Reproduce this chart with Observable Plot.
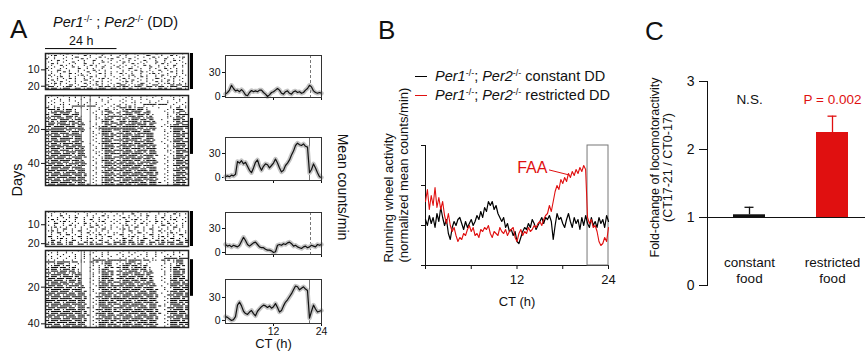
<!DOCTYPE html>
<html><head><meta charset="utf-8">
<script src="https://cdn.jsdelivr.net/npm/d3@7"></script>
<script src="https://cdn.jsdelivr.net/npm/@observablehq/plot@0.6"></script>
<style>
body{margin:0;background:#fff;}
#fig{position:relative;width:867px;height:354px;overflow:hidden;font-family:"Liberation Sans",Arial,sans-serif;color:#111;}
.t{position:absolute;white-space:nowrap;line-height:1;}
sup{font-size:62%;vertical-align:0.55em;line-height:0;font-style:normal}
</style></head><body><div id="fig"></div>
<script>
// ---------------- DATA ----------------
// Actograms: one string per day, 24 hourly bins (' ' none, '.' short bout, '-' full-hour bout); double plotted
const actoConstA = [
" .   . -   .  .  . -  . ",
"  .-  .  .   - .   .  . ",
" . .   .  -.   .  - .   ",
"-  .  .  .  - .  .   .- ",
"  . -  .   . .  -  .  . ",
" .  . .  -   .  .  - .  ",
". - .   . .  -  . .   . ",
"  .  - . .   . - .  .  .",
" . .  .  - .  .  . -  . ",
"- .  . .   -  . .  .  . ",
" .  -.  .  . .  - . .   ",
"  . . - .  .  -  .  . . ",
". .  .  - . .  .  - . . ",
" - . .  .  .- .  .  . . ",
"  . .-  . .  . - .  .  .",
" .  . . - .  . .  .- .  ",
". - .  .  .  -. .  .  . ",
" . . -  . . .  . - . .  ",
"  .- . .  .  - . . .  . ",
"-. . .  -. .  . .- . . .",
" -- . .-- . -- .  -.-- .",
"-.-- .--. -- .-- .--. --",
" .- -. .-- .  -.- . -- ."
];
const actoRestrA = [
"  .   .   .    .  .   . ",
" .  .   . .  .    .  .  ",
"   . .  .   .  .   .  . ",
"  .  .  . .    .   . .  ",
" . .  .    .  .  .   .  ",
"  .  .. .  . .   .  .  .",
" . .  .  ----.---  .  . ",
"-. .- .  .  .     .  . .",
" --.- .-- .   .   . -. .",
". .---.-- .      . .--. ",
" .-- ---. -.    .  . -- ",
"-. --.-- --.     . .-. .",
" .---. --.- .    .  .---",
"-- .--.-- .-     .. -.- ",
" .-- --- .--.    . .--. ",
"-.- .--.-- -.  .   --.- ",
" --.--- .--.-    . .-.--",
".-- .---.- --.   .  --. ",
"-- ---.--- -.   . .-- --",
" .-----.-----  . .------",
"------.-- .--.    .---.-",
"-.----- .--.-   .  ---. ",
" .--.--- --.    . .--.- ",
"--.-- .-----.    . --.--",
" .---.-- .--.   .  .--- ",
"-.-- ----.--.    . --.- ",
" .--.---. --.   .  .--.-",
"--.---- .--.-    . ---. ",
" .-- .---.--.  .  .--.--",
"-.---.-- ---.   .  .--- ",
" --.--.---.--.   . .---.",
"-.--- .--.-.-    . --.- ",
" .--.--- .---.  .  .--.-",
"--.-- .---.--    .. ---.",
" .---.--.- --.   . .-.--",
"-.--.---- .--.    . --. ",
" --.--- .---.-  .  .--.-",
"--.---.-- --.    . .---.",
" .--.---.--.-   .  --.- ",
"-.---.-- .---.   . .--.-",
" --.-- .---.--   .  ---.",
"--.---.-- .--.  .  .--.-",
" .---.--.---.    . --.- ",
"-.--.--- .---.   .  .---",
" --.---.-- --.  .  .--.-",
"--.-- .---.--.   . --.- ",
" .---.--.---.-   .  ---.",
"-.--.---- --.-  .  .--.-",
" --.---.--.--.   . --.- ",
"--.-- .---.--.  .  .---.",
" .---.--.---.-   . .--.-",
"-.--.---- .--.  .  --.- ",
" --.---.-- --.-  . .---.",
"--.-- .---.--.   . --.- "
];
const actoConstB = [
" . .  .   .  . .   .  . ",
"  .  . .   .  .  .  .   ",
". .  -  . .   . .  - . .",
" .  . . . -  .  . .  .  ",
"  - .  .  .  . -  . .  .",
" . . .- . .  .  . .-  . ",
".  -. .  . . - . .  .  .",
" . .  . - .  . . - .  . ",
"  .- . .  . .  -. . . . ",
". . . -. .  . .  . -. . ",
" .- . .  . -.  . . . .  ",
"  . -. . .  . - . .  . .",
". .  . -. . .  . .- .  .",
" -. . .  . -. .  . . -. ",
"  . .- . .  . .- . .  . ",
". -. . . -. . . . -. . .",
" .- -. .-. . -.- . .-. -",
"-.-.-- .-. -- .-.--. -.-",
" -- .-.-- .- .-- .-.--. "
];
const actoRestrB = [
" .  .  .   . .   .   .  ",
"  . .  . .   .  .  . .  ",
" .  . .   .  . .   . .  ",
". .  .  . .  .   . .  . ",
"  . .  .  .  .  . .  .  ",
" . .  .  .  .   ----.---",
"---.----.-- .. -.- .--. ",
" . .--. .  .    .  .--. ",
". .-- .-. .     . . .-. ",
" .--.-- .-.    .  . -.- ",
"-.-- .--.- .    . .--.  ",
" .--.--.-- .   .  .-.-- ",
"-- .--- .-.-    . .--.- ",
" .---.-- .--.   .  --.- ",
"-.-- .---.-.    . .---. ",
" --.--.-- .-.  .  .--.- ",
"--.--- .--.-    . .-.-- ",
" .--.--.-- -.  .  --.-.-",
"-.---.-- .--.   . .--.- ",
" --.-- .---.-    .---.--",
"--.---.-- .--. .  --.-.-",
" .---.--.---.   . .--.--",
"-.--.--- .--.-  .  ---.-",
" --.---.-- --.   .--.-- ",
"--.-- .---.--. .  .---.-",
" .---.--.---.-   --.--.-",
"-.--.---- --.-  . .--.--",
"---.---.--.--.   .---.- ",
"--.-- .---.--.  . --.---",
" .---.--.---.-   .--.-.-",
"-.--.---- .--.  . ---.- ",
" --.---.-- --.- . .---.-",
"--.-- .---.--.   --.--.-",
" .---.--.---.-  . .---.-",
"-.--.----.--.-   ---.-- ",
" --.---.-- --.-  .--.--.",
"--.-- .---.--.  . .---.-",
" .---.--.---.-   --.--.-",
"-.--.---- --.-  . .--.--",
" --.---.--.--.   .---.- ",
"--.-- .---.--.  . --.---",
" .---.--.---.-   .--.-.-",
"-.--.---- .--.  . ---.- "
];
const feedWindow = [12, 15];          // CT (h) of the grey lines in restricted actograms
const markConstA = [0, 22], markRestrA = [13.5, 34.7], markConstB = [3, 21.5], markRestrB = [5, 25];

// Panel A mean counts/min, every 0.5 h from CT0 to CT24
const meanConstTop = [3,5,8,14,10,7,8,6,8.5,6,2,1,5,7.5,6,7,6,8,8,5,3,0,2,5,6,8,10,8,4,3,6,7,4,3,6,7,5,6,4,5,8,10,14,12,7,5,4,5,4];
const meanRestrTop = [1,2,1,3,2,4,20,18,21,17,19,14,9,6,12,19,22,14,9,14,17,16,12,15,18,23,18,12,7,9,15,18,22,28,33,40,43,41,40,42,39,38,6,10,17,12,6,1,0];
const meanConstBot = [10,8,9,7,9,8,7,9,14,19,15,10,8,10,12,13,10,7,6,6,4,3,3,2,0,1,9,10,9,11,10,12,13,11,8,9,7,6,5,7,8,6,7,9,8,7,10,9,10];
const meanRestrBot = [5,4,2,0,1,5,20,24,19,12,9,8,11,13,9,6,12,15,18,20,19,17,19,16,18,22,17,11,13,19,24,27,31,35,40,45,44,40,42,44,41,39,3,12,20,15,11,12,13];
const stepA = 0.5;

// Panel B normalized activity, every 0.25 h from CT0 to CT24
const constantDD = [1.15,1.0,1.25,1.05,1.2,0.95,1.3,1.1,1.45,1.2,1.0,1.15,0.8,0.65,0.95,1.1,1.0,1.15,1.2,1.05,0.9,1.1,0.95,1.05,1.15,1.0,1.1,1.25,1.15,1.35,1.2,1.45,1.35,1.6,1.5,1.6,1.4,1.5,1.3,1.2,1.1,1.2,0.95,1.05,0.85,0.9,0.75,0.85,0.6,0.55,0.7,0.85,0.95,0.9,1.05,0.95,1.15,1.05,0.9,1.0,1.1,1.2,1.05,1.2,1.15,1.25,1.1,0.65,1.0,1.3,1.15,1.2,1.05,0.95,1.15,1.3,1.1,0.95,1.2,1.05,1.15,0.9,1.2,1.0,1.25,1.05,0.95,1.2,1.0,1.1,0.95,1.2,1.05,1.15,0.95,1.25,1.1];
const restrictedDD = [1.6,1.9,1.4,1.75,1.5,1.95,1.45,1.7,1.4,1.6,1.25,1.05,1.3,1.0,0.85,0.95,0.75,0.6,0.7,0.65,0.8,0.75,0.9,1.0,0.85,0.95,0.75,0.8,0.7,0.9,0.85,0.95,0.9,1.0,0.8,0.7,0.85,0.8,0.75,0.95,0.85,0.8,0.9,0.75,0.85,0.9,0.95,0.7,0.6,0.8,0.9,0.75,0.85,0.8,0.95,0.85,0.9,1.0,0.95,1.05,1.1,1.0,1.15,1.25,1.3,1.5,1.35,1.6,1.85,2.0,1.9,2.15,2.05,2.2,2.1,2.3,2.2,2.35,2.25,2.4,2.3,2.45,2.35,2.5,2.4,1.2,1.05,1.15,0.95,1.0,0.85,0.6,0.5,0.55,0.7,0.6,0.95];
const stepB = 0.25;
const faaWindowB = [21.25, 24];
const faaNote = [{t: 14.0, v: 2.45, text: "FAA"}];
const faaPointer = [{t1: 16.2, v1: 2.39, t2: 18.7, v2: 2.27}];

// Panel C
const conditions = ["constant", "restricted"];
const conditionLabels = ["constant\nfood", "restricted\nfood"];
const foldMean = [1.04, 2.25];
const foldErr = [0.11, 0.24];
const sigText = ["N.S.", "P = 0.002"];
const barColors = ["#111111", "#e01010"];

// ---------------- DRAWING ----------------
const RED = "#e01010";
const FONT = "'Liberation Sans', Arial, sans-serif";
const fig = document.getElementById("fig");
function put(el, left, top) { el.style.position = "absolute"; el.style.left = left + "px"; el.style.top = top + "px"; fig.appendChild(el); return el; }
function txt(html, x, base, size, extra = "") {
  const d = document.createElement("div"); d.className = "t"; d.innerHTML = html;
  d.style.cssText += `font-size:${size}px;${extra}`;
  return put(d, x, base - 0.8465 * size);
}
function rot(html, cx, cy, size, deg) {
  const d = document.createElement("div"); d.className = "t"; d.innerHTML = html;
  d.style.cssText += `font-size:${size}px;transform:translate(-50%,-50%) rotate(${deg}deg);`;
  return put(d, cx, cy);
}
const baseStyle = (fs) => ({background: "transparent", overflow: "visible", fontFamily: FONT, fontSize: fs + "px", color: "#111"});

function actoData(days, first) {
  const out = [];
  const n = days.length;
  days.forEach((s, i) => {
    const d = first + i;
    for (let h = 0; h < Math.min(24, s.length); h++) {
      const c = s[h];
      if (c === " ") continue;
      const w = c === "-" ? 1 : 0.4;
      if (i < n - 1) out.push({row: d, x: h, w});
      if (i > 0) out.push({row: d - 1, x: h + 24, w});
    }
  });
  return out;
}
function acto({days, first, domain, height, mt, yTicks, mark, feed, extra = []}) {
  const marks = [
    Plot.rect(actoData(days, first), {x1: "x", x2: d => d.x + d.w, y1: d => d.row + 0.25, y2: d => d.row + 0.8, fill: "#000"})
  ];
  if (feed) marks.push(Plot.ruleX(feedWindow, {stroke: "#777", strokeWidth: 1}));
  marks.push(Plot.frame({stroke: "#222", strokeWidth: 1.5}));
  marks.push(Plot.ruleX([49], {y1: mark[0], y2: mark[1], stroke: "#000", strokeWidth: 3}));
  marks.push(...extra);
  return Plot.plot({
    width: 185, height, marginLeft: 30, marginRight: 12, marginTop: mt, marginBottom: 3,
    style: baseStyle(10.5),
    x: {domain: [0, 48], axis: null},
    y: {domain, reverse: true, ticks: yTicks, tickSize: 4, tickPadding: 2, tickFormat: d => d, label: null},
    marks
  });
}
put(acto({days: actoConstA, first: 0, domain: [0, 22], height: 64, mt: 25, yTicks: [10, 20], mark: markConstA, feed: false,
  extra: [Plot.ruleY([-3], {x1: 0, x2: 24, stroke: "#000", strokeWidth: 1}),
          Plot.text(["24 h"], {x: 12, y: -7.6, fontSize: 12.5})]}), 15, 28);
put(acto({days: actoRestrA, first: 0, domain: [0, 53], height: 96, mt: 3, yTicks: [20, 40], mark: markRestrA, feed: true}), 15, 92);
put(acto({days: actoConstB, first: 3, domain: [3, 21.5], height: 41, mt: 3, yTicks: [10, 20], mark: markConstB, feed: false}), 15, 208);
put(acto({days: actoRestrB, first: 0, domain: [0, 42], height: 83, mt: 3, yTicks: [20, 40], mark: markRestrB, feed: true}), 15, 247);

function linePlot({values, domain, height, mb, vline, dashed, xLabels}) {
  const data = values.map((v, i) => ({t: i * stepA, v}));
  const marks = [
    Plot.ruleX([vline], {stroke: "#777", strokeWidth: 1, strokeDasharray: dashed ? "3,2" : "none"}),
    Plot.lineY(data, {x: "t", y: "v", stroke: "#c4c4c4", strokeWidth: 4.5}),
    Plot.lineY(data, {x: "t", y: "v", stroke: "#111", strokeWidth: 1.2}),
    Plot.frame({stroke: "#333", strokeWidth: 1})
  ];
  if (xLabels) marks.push(Plot.text(["CT (h)"], {frameAnchor: "bottom", dy: 24, fontSize: 13}));
  return Plot.plot({
    width: 125, height, marginLeft: 25, marginRight: 4, marginTop: 5, marginBottom: mb,
    style: baseStyle(10.5),
    x: {domain: [0, 24], ticks: [12, 24], tickSize: 3, tickPadding: 1, tickFormat: xLabels ? (d => d) : (() => ""), label: null},
    y: {domain, ticks: [0, 30], tickSize: 3, tickPadding: 2, tickFormat: d => d, label: null},
    marks
  });
}
put(linePlot({values: meanConstTop, domain: [-1.25, 51.25], height: 52, mb: 5, vline: 21.25, dashed: true}), 200, 50);
put(linePlot({values: meanRestrTop, domain: [-3.75, 50], height: 53, mb: 5, vline: 21, dashed: false}), 200, 132);
put(linePlot({values: meanConstBot, domain: [-2.5, 50], height: 52, mb: 5, vline: 21.25, dashed: true}), 200, 207);
put(linePlot({values: meanRestrBot, domain: [-4, 53.5], height: 80, mb: 31, vline: 21, dashed: false, xLabels: true}), 200, 274);

// Panel B
const bBlack = constantDD.map((v, i) => ({t: i * stepB, v}));
const bRed = restrictedDD.map((v, i) => ({t: i * stepB, v}));
put(Plot.plot({
  width: 250, height: 190, marginLeft: 55, marginTop: 15, marginRight: 12, marginBottom: 55,
  style: baseStyle(13),
  x: {domain: [0, 24], ticks: [0, 6, 12, 18, 24], tickFormat: d => (d === 12 || d === 24) ? d : "", tickSize: 4, tickPadding: 5, line: true, label: null},
  y: {domain: [0, 3], ticks: [0, 1, 2, 3], tickFormat: () => "", tickSize: 4, line: true, label: null},
  marks: [
    Plot.rect([faaWindowB], {x1: d => d[0], x2: d => d[1], y1: 0, y2: 3, stroke: "#777", fill: "none"}),
    Plot.lineY(bBlack, {x: "t", y: "v", stroke: "#000", strokeWidth: 1.2}),
    Plot.lineY(bRed, {x: "t", y: "v", stroke: RED, strokeWidth: 1.1}),
    Plot.link(faaPointer, {x1: "t1", y1: "v1", x2: "t2", y2: "v2", stroke: RED, strokeWidth: 1}),
    Plot.text(faaNote, {x: "t", y: "v", text: "text", fill: RED, fontSize: 16}),
    Plot.text(["Running wheel activity\n(normalized mean counts/min)"], {frameAnchor: "bottom-left", rotate: -90, textAnchor: "start", lineAnchor: "middle", lineHeight: 1.15, dx: -29.5, dy: -3, fontSize: 13}),
    Plot.text(["CT (h)"], {frameAnchor: "bottom", dy: 40, fontSize: 13})
  ]
}), 370, 130);

// Panel C
const cRows = conditions.map((c, i) => ({cond: c, label: conditionLabels[i], mean: foldMean[i], err: foldErr[i], sig: sigText[i], color: barColors[i]}));
put(Plot.plot({
  width: 237, height: 250, marginLeft: 77, marginTop: 21, marginRight: 2, marginBottom: 25,
  style: baseStyle(14),
  color: {type: "identity"},
  x: {type: "band", domain: conditions, range: [77, 243], paddingInner: 0.619, paddingOuter: 0.298, axis: null},
  y: {domain: [0, 3], ticks: [0, 1, 2, 3], tickSize: 8, tickPadding: 5, tickFormat: d => d, line: true, label: null},
  marks: [
    Plot.ruleX(cRows, {x: "cond", y1: "mean", y2: d => d.mean + d.err, stroke: "color", strokeWidth: 1.3}),
    Plot.tickY(cRows, {x: "cond", y: d => d.mean + d.err, stroke: "color", strokeWidth: 1.3, insetLeft: 11.5, insetRight: 11.5}),
    Plot.barY(cRows, {x: "cond", y1: 1, y2: "mean", fill: "color"}),
    Plot.ruleY([1], {stroke: "#111", strokeWidth: 1}),
    Plot.text(cRows, {x: "cond", y: 2.74, text: "sig", fill: d => d.color === "#111111" ? "#111" : RED, fontSize: 13.5}),
    Plot.text(cRows, {x: "cond", y: 0.235, text: "label", lineHeight: 1.2, fontSize: 13.5}),
    Plot.text(["Fold-change of locomotoractivity\n(CT17-21 / CT0-17)"], {frameAnchor: "top-left", rotate: -90, textAnchor: "middle", lineAnchor: "middle", dx: -46.5, dy: 86, lineHeight: 1.05, fontSize: 12.5})
  ]
}), 630, 60);

// Labels
txt("A", 10, 38, 26);
txt("B", 378, 39, 26);
txt("C", 645, 40, 26);
txt("<i>Per1</i><sup>-/-</sup> ; <i>Per2</i><sup>-/-</sup> (DD)", 53, 27, 14.5);
rot("Days", 17, 180, 14.5, -90);
rot("Mean counts/min", 343, 187, 14, 90);
// Legend B
const seg1 = document.createElement("div"); seg1.style.cssText = "width:12px;height:0;border-top:1.5px solid #000"; put(seg1, 415, 76);
const seg2 = document.createElement("div"); seg2.style.cssText = `width:12px;height:0;border-top:1.5px solid ${RED}`; put(seg2, 415, 95);
txt("<i>Per1</i><sup>-/-</sup>; <i>Per2</i><sup>-/-</sup> constant DD", 435, 81.5, 14.5);
txt("<i>Per1</i><sup>-/-</sup>; <i>Per2</i><sup>-/-</sup> restricted DD", 435, 100.5, 14.5);
</script></body></html>
